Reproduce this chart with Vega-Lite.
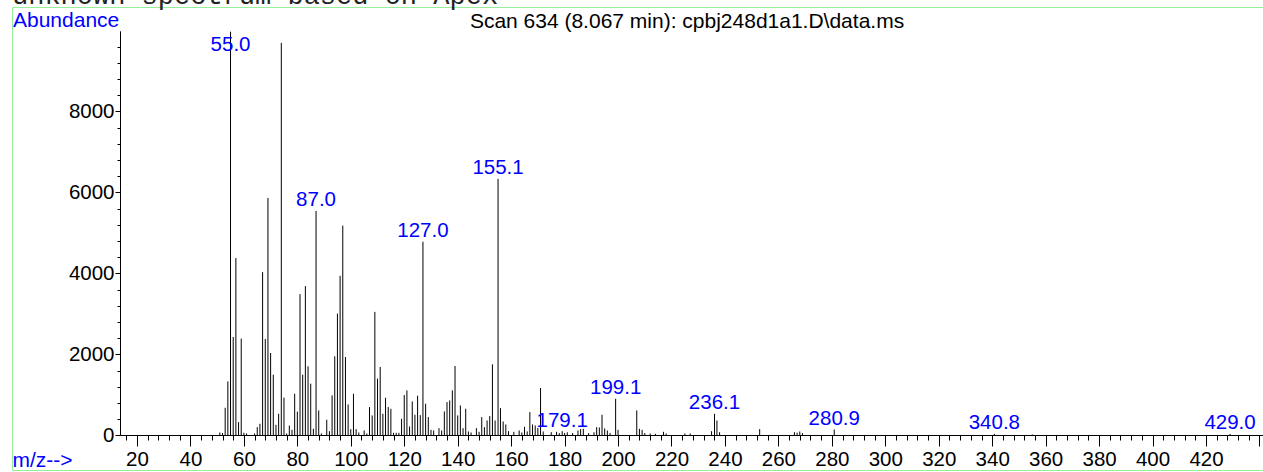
{
  "$schema": "https://vega.github.io/schema/vega-lite/v6.json",
  "width": 1251,
  "height": 463,
  "autosize": {"type": "none"},
  "padding": {"left": 12, "top": 7, "right": 0, "bottom": 2},
  "background": "white",
  "config": {
    "view": {"stroke": "#98ee98", "strokeWidth": 1, "fill": "white"},
    "font": "Liberation Sans"
  },
  "title": {
    "text": "unknown spectrum based on Apex",
    "anchor": "start",
    "frame": "group",
    "font": "Liberation Mono",
    "fontSize": 27,
    "fontWeight": "normal",
    "color": "#222222",
    "baseline": "alphabetic",
    "offset": -24
  },
  "datasets": {
    "peaks": [
      {"mz": 51, "abundance": 75}, {"mz": 52, "abundance": 62}, {"mz": 53, "abundance": 685}, {"mz": 54, "abundance": 1336},
      {"mz": 55.0, "abundance": 9970, "label": "55.0"}, {"mz": 56, "abundance": 2433}, {"mz": 57, "abundance": 4381}, {"mz": 58, "abundance": 330},
      {"mz": 59, "abundance": 2392}, {"mz": 60, "abundance": 66}, {"mz": 61, "abundance": 50}, {"mz": 64, "abundance": 50},
      {"mz": 65, "abundance": 206}, {"mz": 66, "abundance": 289}, {"mz": 67, "abundance": 4034}, {"mz": 68, "abundance": 2384},
      {"mz": 69, "abundance": 5866}, {"mz": 70, "abundance": 2037}, {"mz": 71, "abundance": 1502}, {"mz": 72, "abundance": 264},
      {"mz": 73, "abundance": 536}, {"mz": 74, "abundance": 9694}, {"mz": 75, "abundance": 935}, {"mz": 76, "abundance": 50},
      {"mz": 77, "abundance": 245}, {"mz": 78, "abundance": 140}, {"mz": 79, "abundance": 1031}, {"mz": 80, "abundance": 590},
      {"mz": 81, "abundance": 3490}, {"mz": 82, "abundance": 1502}, {"mz": 83, "abundance": 3688}, {"mz": 84, "abundance": 1708},
      {"mz": 85, "abundance": 1279}, {"mz": 86, "abundance": 165}, {"mz": 87.0, "abundance": 5544, "label": "87.0"}, {"mz": 88, "abundance": 619},
      {"mz": 89, "abundance": 50}, {"mz": 91, "abundance": 388}, {"mz": 92, "abundance": 107}, {"mz": 93, "abundance": 990},
      {"mz": 94, "abundance": 1955}, {"mz": 95, "abundance": 3011}, {"mz": 96, "abundance": 3943}, {"mz": 97, "abundance": 5181},
      {"mz": 98, "abundance": 1939}, {"mz": 99, "abundance": 767}, {"mz": 100, "abundance": 157}, {"mz": 101, "abundance": 1031},
      {"mz": 102, "abundance": 157}, {"mz": 103, "abundance": 74}, {"mz": 105, "abundance": 124}, {"mz": 106, "abundance": 50},
      {"mz": 107, "abundance": 701}, {"mz": 108, "abundance": 495}, {"mz": 109, "abundance": 3052}, {"mz": 110, "abundance": 1403},
      {"mz": 111, "abundance": 1691}, {"mz": 112, "abundance": 536}, {"mz": 113, "abundance": 932}, {"mz": 114, "abundance": 701},
      {"mz": 115, "abundance": 660}, {"mz": 116, "abundance": 66}, {"mz": 117, "abundance": 66}, {"mz": 118, "abundance": 66},
      {"mz": 119, "abundance": 412}, {"mz": 120, "abundance": 998}, {"mz": 121, "abundance": 1114}, {"mz": 122, "abundance": 223},
      {"mz": 123, "abundance": 841}, {"mz": 124, "abundance": 512}, {"mz": 125, "abundance": 982}, {"mz": 126, "abundance": 503},
      {"mz": 127.0, "abundance": 4785, "label": "127.0"}, {"mz": 128, "abundance": 784}, {"mz": 129, "abundance": 454}, {"mz": 130, "abundance": 140},
      {"mz": 131, "abundance": 124}, {"mz": 133, "abundance": 181}, {"mz": 134, "abundance": 124}, {"mz": 135, "abundance": 594},
      {"mz": 136, "abundance": 825}, {"mz": 137, "abundance": 866}, {"mz": 138, "abundance": 1114}, {"mz": 139, "abundance": 1716},
      {"mz": 140, "abundance": 495}, {"mz": 141, "abundance": 742}, {"mz": 142, "abundance": 181}, {"mz": 143, "abundance": 660},
      {"mz": 144, "abundance": 100}, {"mz": 145, "abundance": 74}, {"mz": 147, "abundance": 181}, {"mz": 148, "abundance": 91},
      {"mz": 149, "abundance": 454}, {"mz": 150, "abundance": 206}, {"mz": 151, "abundance": 371}, {"mz": 152, "abundance": 478},
      {"mz": 153, "abundance": 1757}, {"mz": 154, "abundance": 371}, {"mz": 155.1, "abundance": 6336, "label": "155.1"}, {"mz": 156, "abundance": 676},
      {"mz": 157, "abundance": 346}, {"mz": 158, "abundance": 272}, {"mz": 159, "abundance": 107}, {"mz": 161, "abundance": 91},
      {"mz": 163, "abundance": 124}, {"mz": 164, "abundance": 74}, {"mz": 165, "abundance": 215}, {"mz": 166, "abundance": 100},
      {"mz": 167, "abundance": 577}, {"mz": 168, "abundance": 272}, {"mz": 169, "abundance": 248}, {"mz": 170, "abundance": 190},
      {"mz": 171, "abundance": 1171}, {"mz": 172, "abundance": 100}, {"mz": 175, "abundance": 82}, {"mz": 177, "abundance": 91},
      {"mz": 178, "abundance": 60}, {"mz": 179.1, "abundance": 107, "label": "179.1"}, {"mz": 180, "abundance": 60}, {"mz": 181, "abundance": 80},
      {"mz": 183, "abundance": 60}, {"mz": 185, "abundance": 124}, {"mz": 186, "abundance": 157}, {"mz": 187, "abundance": 165},
      {"mz": 189, "abundance": 60}, {"mz": 191, "abundance": 80}, {"mz": 192, "abundance": 206}, {"mz": 193, "abundance": 198},
      {"mz": 194, "abundance": 512}, {"mz": 195, "abundance": 173}, {"mz": 196, "abundance": 124}, {"mz": 197, "abundance": 60},
      {"mz": 199.1, "abundance": 907, "label": "199.1"}, {"mz": 200, "abundance": 140}, {"mz": 207, "abundance": 619}, {"mz": 208, "abundance": 165},
      {"mz": 209, "abundance": 140}, {"mz": 210, "abundance": 60}, {"mz": 212, "abundance": 50}, {"mz": 214, "abundance": 40},
      {"mz": 217, "abundance": 91}, {"mz": 218, "abundance": 50}, {"mz": 225, "abundance": 50}, {"mz": 227, "abundance": 50},
      {"mz": 235, "abundance": 107}, {"mz": 236.1, "abundance": 536, "label": "236.1"}, {"mz": 237, "abundance": 371}, {"mz": 238, "abundance": 82},
      {"mz": 253, "abundance": 157}, {"mz": 266, "abundance": 82}, {"mz": 267, "abundance": 70}, {"mz": 268, "abundance": 99},
      {"mz": 269, "abundance": 60}, {"mz": 280.9, "abundance": 148, "label": "280.9"}, {"mz": 340.8, "abundance": 40, "label": "340.8"},
      {"mz": 355, "abundance": 25}, {"mz": 429.0, "abundance": 40, "label": "429.0"}
    ]
  },
  "resolve": {"axis": {"x": "independent", "y": "independent"}},
  "layer": [
    {
      "data": {"name": "peaks"},
      "mark": {"type": "rule", "color": "black", "strokeWidth": 1},
      "encoding": {
        "x": {
          "field": "mz", "type": "quantitative",
          "scale": {"domain": [-26.77, 441.33], "nice": false, "zero": false},
          "axis": {
            "orient": "bottom", "offset": -35, "domain": false, "grid": false,
            "values": [16,20,24,28,32,36,40,44,48,52,56,60,64,68,72,76,80,84,88,92,96,100,104,108,112,116,120,124,128,132,136,140,144,148,152,156,160,164,168,172,176,180,184,188,192,196,200,204,208,212,216,220,224,228,232,236,240,244,248,252,256,260,264,268,272,276,280,284,288,292,296,300,304,308,312,316,320,324,328,332,336,340,344,348,352,356,360,364,368,372,376,380,384,388,392,396,400,404,408,412,416,420,424,428,432,436,440],
            "format": "d",
            "labelExpr": "(datum.value % 20 === 0 && datum.value <= 420) ? datum.label : ''",
            "tickSize": {"condition": {"test": "datum.value % 20 === 0", "value": 11}, "value": 5},
            "tickColor": "black", "tickWidth": 1,
            "labelFont": "Liberation Sans", "labelFontSize": 20.5, "labelColor": "black",
            "labelPadding": 3, "labelOverlap": false, "labelFlush": false,
            "title": "m/z-->", "titleColor": "#0000ff", "titleFont": "Liberation Sans", "titleFontSize": 21,
            "titleFontWeight": "normal", "titleX": 0, "titleY": 31, "titleAlign": "left", "titleBaseline": "alphabetic"
          }
        },
        "y": {
          "field": "abundance", "type": "quantitative",
          "scale": {"domain": [-851.9, 10580.2], "nice": false, "zero": false},
          "axis": {
            "orient": "left", "offset": -108, "domain": false, "grid": false,
            "values": [0,400,800,1200,1600,2000,2400,2800,3200,3600,4000,4400,4800,5200,5600,6000,6400,6800,7200,7600,8000,8400,8800,9200,9600],
            "format": "d",
            "labelExpr": "datum.value % 2000 === 0 ? datum.label : ''",
            "tickSize": {"condition": {"test": "datum.value % 2000 === 0", "value": 5}, "value": 3},
            "tickColor": "black", "tickWidth": 1,
            "labelFont": "Liberation Sans", "labelFontSize": 20.5, "labelColor": "black",
            "labelPadding": 1, "labelOverlap": false, "labelFlush": false,
            "title": "Abundance", "titleColor": "#0000ff", "titleFont": "Liberation Sans", "titleFontSize": 21,
            "titleFontWeight": "normal", "titleAngle": 0, "titleX": -107.5, "titleY": 19.7,
            "titleAlign": "left", "titleBaseline": "alphabetic"
          }
        },
        "y2": {"datum": 0}
      }
    },
    {
      "data": {"name": "peaks"},
      "transform": [
        {"filter": "datum.label != null"},
        {"calculate": "min(datum.abundance, 9380)", "as": "ly"}
      ],
      "mark": {"type": "text", "color": "#0000ff", "font": "Liberation Sans", "fontSize": 20.5, "align": "center", "baseline": "alphabetic", "dy": -4.5},
      "encoding": {
        "x": {
          "field": "mz", "type": "quantitative",
          "axis": {
            "orient": "top", "domain": false, "ticks": false, "labels": false, "grid": false,
            "title": "Scan 634 (8.067 min): cpbj248d1a1.D\\data.ms",
            "titleX": 674.5, "titleY": 20.3, "titleAlign": "center", "titleBaseline": "alphabetic",
            "titleColor": "black", "titleFont": "Liberation Sans", "titleFontSize": 21, "titleFontWeight": "normal"
          }
        },
        "y": {"field": "ly", "type": "quantitative", "axis": null},
        "text": {"field": "label"}
      }
    },
    {
      "data": {"values": [{}]},
      "mark": {"type": "rule", "color": "black", "strokeWidth": 1},
      "encoding": {
        "x": {"datum": 13.83, "type": "quantitative", "axis": null},
        "x2": {"datum": 441.33},
        "y": {"datum": 0, "type": "quantitative", "axis": null}
      }
    },
    {
      "data": {"values": [{}]},
      "mark": {"type": "rule", "color": "black", "strokeWidth": 1},
      "encoding": {
        "x": {"datum": 13.83, "type": "quantitative", "axis": null},
        "y": {"datum": 0, "type": "quantitative", "axis": null},
        "y2": {"datum": 9980}
      }
    }
  ]
}
